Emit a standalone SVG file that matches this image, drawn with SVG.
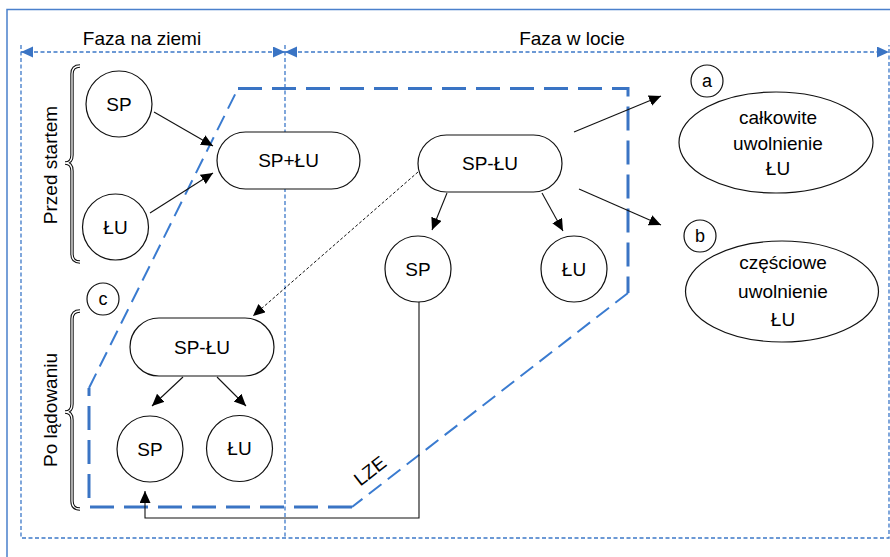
<svg xmlns="http://www.w3.org/2000/svg" width="890" height="557" viewBox="0 0 890 557">
<style>
text{font-family:"Liberation Sans",Arial,sans-serif;font-size:19px;fill:#000;text-anchor:middle}
.n{fill:#fff;stroke:#111;stroke-width:1.2}
.c{stroke:#111;stroke-width:1.1;fill:none}
.cd{stroke:#111;stroke-width:1;fill:none;stroke-dasharray:3 2}
.frame{fill:none;stroke:#3c78c8;stroke-width:1.3;stroke-dasharray:4 2.5}
.thick{fill:none;stroke:#3a74c4;stroke-width:3;stroke-dasharray:24 10}
.thin{fill:none;stroke:#3a7bd0;stroke-width:2;stroke-dasharray:16 8}
.lt{font-size:18px}
.br1{fill:none;stroke:#111;stroke-width:3.4}
.br2{fill:none;stroke:#fff;stroke-width:1.3}
</style>
<defs>
<marker id="ah" markerUnits="userSpaceOnUse" markerWidth="14" markerHeight="12" refX="12" refY="5.5" orient="auto"><path d="M0,0 L12,5.5 L0,11 z" fill="#000"/></marker>
<marker id="bh" markerUnits="userSpaceOnUse" markerWidth="14" markerHeight="12" refX="12" refY="5.5" orient="auto-start-reverse"><path d="M0,0 L12,5.5 L0,11 z" fill="#3a74c4"/></marker>
</defs>

<g id="frames">
<rect x="7" y="9.5" width="900" height="560" fill="none" stroke="#4a80cc" stroke-width="1.5"/>
<path class="frame" d="M21,45 V538 H889 V45 M285,45 V538"/>
<path class="frame" d="M21,52 H285" marker-start="url(#bh)" marker-end="url(#bh)"/>
<path class="frame" d="M285,52 H889" marker-start="url(#bh)" marker-end="url(#bh)"/>
<text x="142" y="45">Faza na ziemi</text>
<text x="572" y="45">Faza w locie</text>
</g>

<g id="lze">
<path class="thick" d="M238,88.5 H628 V293"/>
<path class="thin" d="M628,293 L352,507"/>
<path class="thick" d="M352,507 H89 V388"/>
<path class="thin" d="M89,388 L238,88.5"/>
<text transform="translate(374,476) rotate(-37.7)">LZE</text>
</g>

<g id="braces">
<path class="br1" d="M80,66 Q72,66 72,74 L72,155 Q72,163 65,163 Q72,163 72,171 L72,254 Q72,262 80,262"/>
<path class="br2" d="M80,66 Q72,66 72,74 L72,155 Q72,163 65,163 Q72,163 72,171 L72,254 Q72,262 80,262"/>
<path class="br1" d="M80,311 Q72,311 72,319 L72,404 Q72,412 65,412 Q72,412 72,420 L72,501 Q72,509 80,509"/>
<path class="br2" d="M80,311 Q72,311 72,319 L72,404 Q72,412 65,412 Q72,412 72,420 L72,501 Q72,509 80,509"/>
<text transform="translate(57,165) rotate(-90)">Przed startem</text>
<text transform="translate(57,410) rotate(-90)">Po lądowaniu</text>
</g>

<g id="connectors">
<path class="c" d="M154,112 L213,146" marker-end="url(#ah)"/>
<path class="c" d="M150,213 L213,173" marker-end="url(#ah)"/>
<path class="cd" d="M418,172 L253,316" marker-end="url(#ah)"/>
<path class="c" d="M447,193 L432,230" marker-end="url(#ah)"/>
<path class="c" d="M542,193 L563,231" marker-end="url(#ah)"/>
<path class="c" d="M574,132 L661,96" marker-end="url(#ah)"/>
<path class="c" d="M579,189 L661,225" marker-end="url(#ah)"/>
<path class="c" d="M183,377 L152,406" marker-end="url(#ah)"/>
<path class="c" d="M217,377 L246,406" marker-end="url(#ah)"/>
<path class="c" d="M419,302 V518 H145 V491" marker-end="url(#ah)"/>
</g>

<g id="sp1"><circle class="n" cx="119" cy="104" r="33"/><text x="119" y="111">SP</text></g>
<g id="lu1"><circle class="n" cx="115.5" cy="227" r="33"/><text x="115.5" y="234">ŁU</text></g>
<g id="splu1"><rect class="n" x="217" y="132" width="143" height="57" rx="28.5"/><text x="288.5" y="167">SP+ŁU</text></g>
<g id="splu2"><rect class="n" x="418" y="135" width="144" height="57" rx="28.5"/><text x="490" y="170">SP-ŁU</text></g>
<g id="sp2"><circle class="n" cx="418" cy="269" r="33"/><text x="418" y="276">SP</text></g>
<g id="lu2"><circle class="n" cx="574" cy="269" r="33"/><text x="574" y="276">ŁU</text></g>
<g id="la"><circle class="n" cx="707" cy="81" r="16"/><text class="lt" x="707" y="87">a</text></g>
<g id="ea"><ellipse class="n" cx="776" cy="142.5" rx="97" ry="50.5"/><text x="778" y="124">całkowite</text><text x="778" y="150">uwolnienie</text><text x="778" y="175">ŁU</text></g>
<g id="lb"><circle class="n" cx="700" cy="236" r="16"/><text class="lt" x="700" y="242">b</text></g>
<g id="eb"><ellipse class="n" cx="782" cy="291.5" rx="96.5" ry="50.5"/><text x="783" y="269">częściowe</text><text x="783" y="298">uwolnienie</text><text x="783" y="326">ŁU</text></g>
<g id="lc"><circle class="n" cx="103" cy="299" r="16"/><text class="lt" x="103" y="305">c</text></g>
<g id="splu3"><rect class="n" x="130" y="318" width="144" height="58" rx="29"/><text x="202" y="354">SP-ŁU</text></g>
<g id="sp3"><circle class="n" cx="150" cy="449" r="33"/><text x="150" y="456">SP</text></g>
<g id="lu3"><circle class="n" cx="239.5" cy="448.5" r="33"/><text x="239.5" y="455">ŁU</text></g>
</svg>
